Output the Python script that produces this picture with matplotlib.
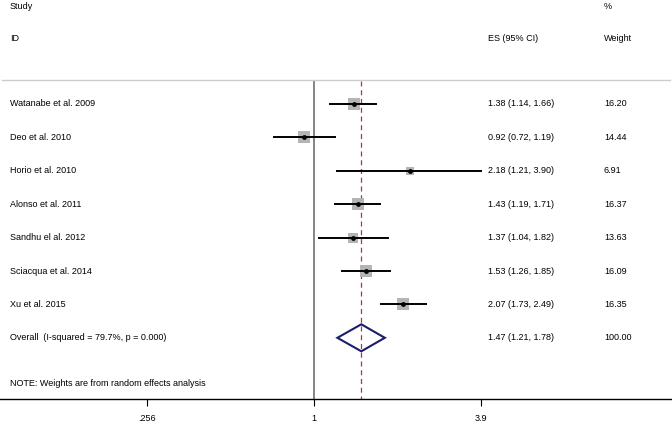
import numpy as np
import matplotlib.pyplot as plt
from matplotlib.patches import Polygon

plt.rcParams['font.family'] = ['Liberation Sans', 'DejaVu Sans']

studies = ['Watanabe et al. 2009', 'Deo et al. 2010', 'Horio et al. 2010',
           'Alonso et al. 2011', 'Sandhu el al. 2012', 'Sciacqua et al. 2014',
           'Xu et al. 2015']
es = [1.38, 0.92, 2.18, 1.43, 1.37, 1.53, 2.07]
lo = [1.14, 0.72, 1.21, 1.19, 1.04, 1.26, 1.73]
hi = [1.66, 1.19, 3.90, 1.71, 1.82, 1.85, 2.49]
weights = [16.20, 14.44, 6.91, 16.37, 13.63, 16.09, 16.35]

overall_label = 'Overall  (I-squared = 79.7%, p = 0.000)'
overall_es, overall_lo, overall_hi = 1.47, 1.21, 1.78
overall_weight = 100.00

xticks = [0.256, 1, 3.9]
xticklabels = ['.256', '1', '3.9']

W, H = 672, 425
fig = plt.figure(figsize=(W / 100, H / 100), dpi=100)
ax = fig.add_axes([0, (H - 399) / H, 1, 399 / H])

# log x axis, mapping 1 -> px 314, ~122.8 px per ln unit
ax.set_xscale('log')
ax.set_xlim(np.exp(-314 / 122.8), np.exp((W - 314) / 122.8))
ax.set_ylim(399, 0)  # y in pixel rows from top

row0, step = 104, 33.4
rows = [row0 + i * step for i in range(len(studies))]
row_overall = row0 + len(studies) * step

trans = ax.get_yaxis_transform()  # x axes fraction, y data
fs = 6.5

# header
ax.text(10 / W, 6.5, 'Study', transform=trans, fontsize=fs, va='center')
ax.text(10 / W, 38.5, 'ID', transform=trans, fontsize=fs, va='center')
ax.text(488 / W, 38.5, 'ES (95% CI)', transform=trans, fontsize=fs, va='center')
ax.text(604 / W, 6.5, '%', transform=trans, fontsize=fs, va='center')
ax.text(604 / W, 38.5, 'Weight', transform=trans, fontsize=fs, va='center')

ax.plot([2 / W, 670 / W], [80, 80], transform=trans, color='#cccccc', lw=1)

# reference lines
ax.vlines(1, 81, 399, color='#707070', lw=1.2, zorder=1)
ax.vlines(overall_es, 81, 399, color='#b03050', lw=0.9, linestyles=(0, (4, 3)), zorder=1)

for y, name, e, l, h, w in zip(rows, studies, es, lo, hi, weights):
    ax.scatter([e], [y], marker='s', s=4.4 * w, color='#b4b4b4', zorder=2, linewidths=0)
    ax.plot([l, h], [y, y], color='black', lw=1.4, zorder=3)
    ax.scatter([e], [y], marker='o', s=6, color='black', zorder=4)
    ax.text(10 / W, y, name, transform=trans, fontsize=fs, va='center')
    ax.text(488 / W, y, f'{e:.2f} ({l:.2f}, {h:.2f})', transform=trans, fontsize=fs, va='center')
    ax.text(604 / W, y, f'{w:.2f}', transform=trans, fontsize=fs, va='center')

yo = row_overall
diamond = Polygon([[overall_lo, yo], [overall_es, yo - 13.5], [overall_hi, yo], [overall_es, yo + 13.5]],
                  closed=True, fill=False, edgecolor='#1c1c6e', lw=1.5, zorder=3)
ax.add_patch(diamond)
ax.text(10 / W, yo, overall_label, transform=trans, fontsize=fs, va='center')
ax.text(488 / W, yo, f'{overall_es:.2f} ({overall_lo:.2f}, {overall_hi:.2f})', transform=trans,
        fontsize=fs, va='center')
ax.text(604 / W, yo, f'{overall_weight:.2f}', transform=trans, fontsize=fs, va='center')

ax.text(10 / W, 383, 'NOTE: Weights are from random effects analysis', transform=trans,
        fontsize=fs, va='center')

for s in ['top', 'left', 'right']:
    ax.spines[s].set_visible(False)
ax.spines['bottom'].set_linewidth(1.0)
ax.set_yticks([])
ax.set_xticks(xticks)
ax.set_xticklabels(xticklabels, fontsize=fs)
ax.minorticks_off()
ax.tick_params(axis='x', length=5, width=0.8, pad=6)

fig.savefig('out.png', dpi=100)
